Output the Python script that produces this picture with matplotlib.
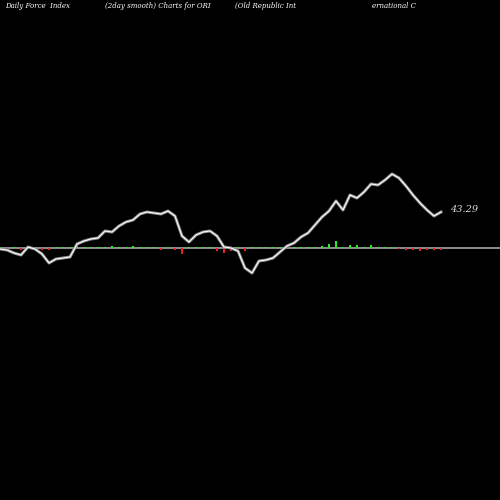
import matplotlib
matplotlib.use("Agg")
import matplotlib.pyplot as plt
import numpy as np

# smoothed force index (chart units, zero = baseline)
force = [-1, -2, -5, -7, 1, -1, -6, -15, -11, -10, -9, 4, 7, 9, 10, 17,
         16, 22, 26, 28, 34, 36, 35, 34, 37, 32, 12, 6, 13, 16, 17, 12,
         1, 0, -3, -20, -25, -13, -12, -10, -4, 2, 5, 11, 15, 23, 31, 37,
         47, 38, 53, 50, 56, 64, 63, 68, 74, 70, 62, 53, 45, 38, 32, 36]
# daily bars
bars = [1, -1.5, 1, -1.5, 2, 1, -1.5, -2, 1, 1, 1.5, 3, 1.5, 1.5, 1.5, 1.5,
        2, 1.5, 1.5, 2, 1.5, 1.5, 1, -1.5, 1.5, -2, -6, 1.5, 1.5, 1.5, 1.5, -2.5,
        -5, -2.5, 1, -2.5, 1, 1, 1, 1, 1, 1.5, 1.5, 1, 1.5, 1.5, 2, 4,
        7, 1.5, 3, 3, 1.5, 3, 1.5, 1.5, 1.5, -1, -2, -2, -2.5, -2, -2, -1.5]
last_label = "43.29"

fig = plt.figure(figsize=(5, 5), dpi=100, facecolor="black")
ax = fig.add_axes([0, 0, 1, 1], facecolor="black")
x = np.arange(len(force)) * 7
colors = ["#22ee22" if b > 0 else "#ee2222" for b in bars]
ax.axhline(0, color="#999999", lw=1.3, zorder=1)
ax.bar(x, bars, width=2.5, color=colors, zorder=2)
ax.plot(x, force, color="#888888", lw=2.2, zorder=3)
ax.plot(x, force, color="white", lw=0.8, zorder=4)
ax.set_xlim(0, 500)
ax.set_ylim(-252, 248)
ax.axis("off")

ax.text(450, force[-1] + 2, last_label, color="#dddddd", fontsize=7,
        family="DejaVu Serif", style="italic", va="center")

tfont = dict(color="white", fontsize=5, family="DejaVu Serif", style="italic")
fig.text(0.01, 0.984, "Daily Force  Index", **tfont)
fig.text(0.21, 0.984, "(2day smooth) Charts for ORI", **tfont)
fig.text(0.47, 0.984, "(Old Republic Int", **tfont)
fig.text(0.745, 0.984, "ernational C", **tfont)

fig.savefig("out.png", facecolor="black")
